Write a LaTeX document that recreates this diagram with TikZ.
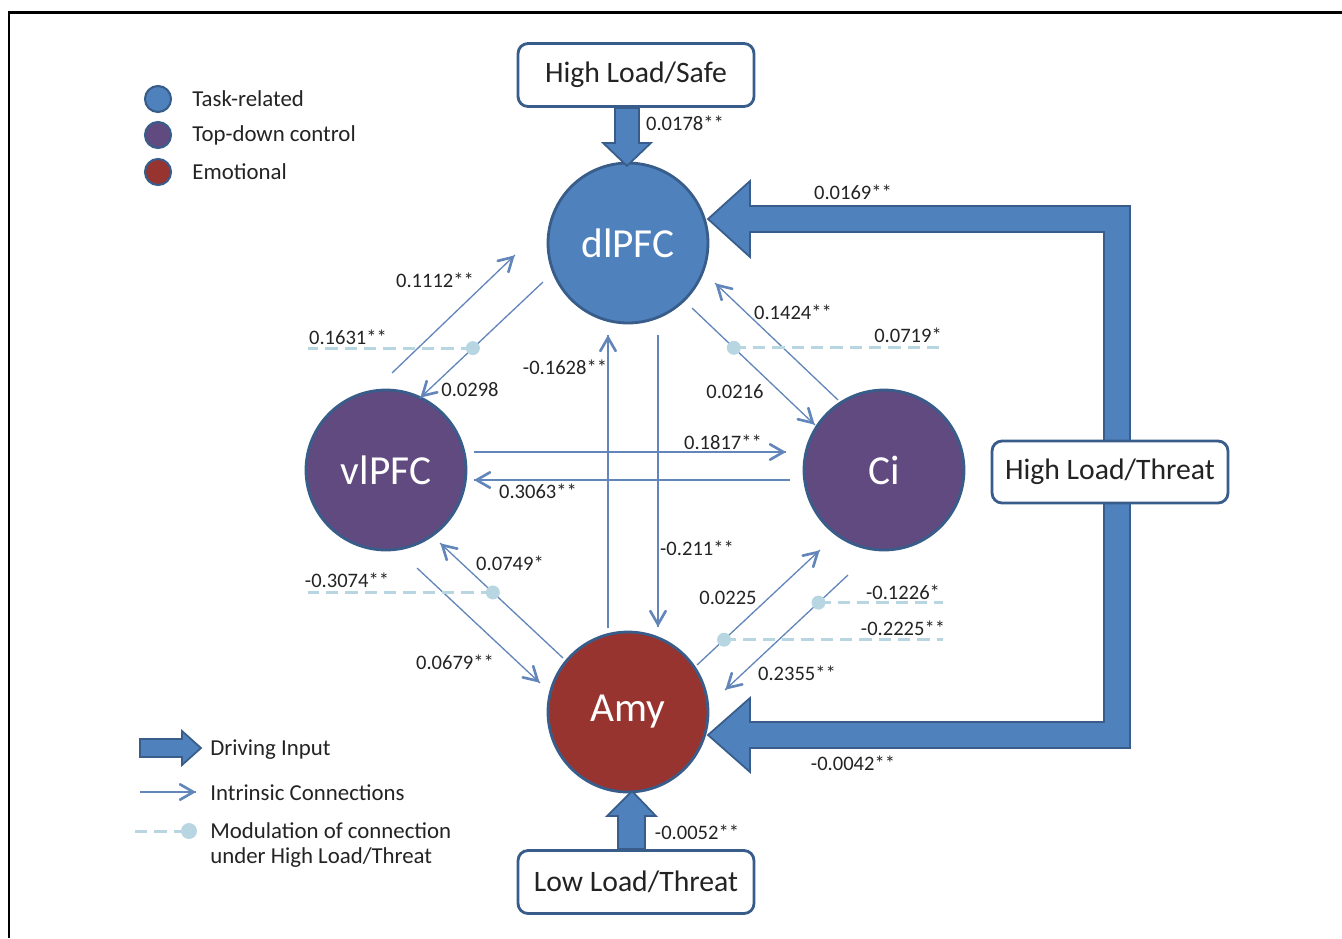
\documentclass[tikz,border=0pt]{standalone}
\usepackage{fontspec}
\setmainfont{Carlito}
\usepackage{tikz}
\usetikzlibrary{arrows}
\usetikzlibrary{calc}
\usetikzlibrary{decorations.markings}
\usetikzlibrary{positioning}
\definecolor{taskblue}{RGB}{79,129,189}
\definecolor{rimblue}{RGB}{56,93,138}
\definecolor{ctrlpurple}{RGB}{96,74,128}
\definecolor{emored}{RGB}{152,52,48}
\definecolor{connblue}{RGB}{98,134,186}
\definecolor{modcyan}{RGB}{184,214,226}
\definecolor{inkgray}{RGB}{35,35,35}
\tikzset{conn/.style = {color=connblue, line width=0.75pt,
                        decoration={markings,
                                    mark=at position 1 with {\arrow[scale=2]{angle 60}}},
                        postaction={decorate}}}
\tikzset{modline/.style = {draw=modcyan, line width=1.7pt, dash pattern=on 7pt off 4pt}}
\tikzset{region/.style = {circle, draw=rimblue, line width=1.6pt, inner sep=0,
                          minimum size=3.2cm, text=white,
                          font=\fontsize{23.5}{28}\selectfont}}
\tikzset{cond/.style = {draw=rimblue, line width=1.6pt, fill=white, rounded corners=0.2cm,
                        minimum width=4.72cm, minimum height=1.26cm,
                        text=inkgray, font=\fontsize{16.9}{20}\selectfont}}
\tikzset{drive/.style = {fill=taskblue, draw=rimblue, line width=1pt, line join=miter}}
\tikzset{wt/.style = {text=inkgray, inner sep=0, font=\fontsize{11.7}{14}\selectfont}}
\tikzset{key/.style = {circle, draw=rimblue, line width=1.2pt, inner sep=0, minimum size=0.52cm}}
\tikzset{keytext/.style = {anchor=west, inner sep=0, text=inkgray, align=left,
                           font=\fontsize{13}{14.7}\selectfont}}
\begin{document}
\begin{tikzpicture}[x=0.02cm, y=-0.02cm]
  \useasboundingbox (0,0) rectangle (1342,938);
  \draw [line width=1.7pt] (9,938) -- (9,12) -- (1342,12);

  % big input arrow on the right
  \filldraw [drive] (708,219) -- (750,181) -- (750,206) -- (1130,206) -- (1130,748)
    -- (750,748) -- (750,772) -- (708,735) -- (750,698) -- (750,722) -- (1104,722)
    -- (1104,232) -- (750,232) -- (750,257) -- cycle;

  % regions
  \node [region, fill=taskblue] (dl) at (628,243) {dlPFC};
  \node [region, fill=ctrlpurple] (vl) at (386,470) {vlPFC};
  \node [region, fill=ctrlpurple] (ci) at (884,470) {Ci};
  \node [region, fill=emored] (amy) at (628,712) {Amy};

  % inputs
  \node [cond] (safe) at (636,75) {High Load/Safe};
  \node [cond] (lowthr) at (636,882) {Low Load/Threat};
  \node [cond, minimum height=1.24cm] (highthr) at (1110,472) {High Load/Threat};
  \filldraw [drive, shift={(safe.south)}] (-21,0) -- (-21,35) -- (-33,35) -- (-9,58)
    -- (15,35) -- (3,35) -- (3,0) -- cycle;
  \filldraw [drive, shift={(lowthr.north)}] (-18,0) -- (-18,-33) -- (-29,-33) -- (-4,-58)
    -- (20,-33) -- (9,-33) -- (9,0) -- cycle;
  \node [wt] (d1) at (685,123) {0.0178**};
  \node [wt] (d2) at (853,192) {0.0169**};
  \node [wt] (d3) at (853,763) {-0.0042**};
  \node [wt] (d4) at (697,832) {-0.0052**};

  % intrinsic connections
  \coordinate (vd1) at (392,373); \coordinate (vd2) at (515,255);
  \coordinate (dv1) at (543,282); \coordinate (dv2) at (420,398);
  \coordinate (dc1) at (692,308); \coordinate (dc2) at (815,425);
  \coordinate (cd1) at (838,400); \coordinate (cd2) at (715,283);
  \coordinate (ad1) at (608,628); \coordinate (ad2) at (608,335);
  \coordinate (da1) at (658,335); \coordinate (da2) at (658,627);
  \coordinate (vc1) at (474,452); \coordinate (vc2) at (786,452);
  \coordinate (cv1) at (790,480); \coordinate (cv2) at (474,480);
  \coordinate (va1) at (417,568); \coordinate (va2) at (540,683);
  \coordinate (av1) at (563,658); \coordinate (av2) at (440,543);
  \coordinate (ac1) at (697,665); \coordinate (ac2) at (820,550);
  \coordinate (ca1) at (848,575); \coordinate (ca2) at (725,690);
  \foreach \a/\b in {vd1/vd2, dv1/dv2, dc1/dc2, cd1/cd2, ad1/ad2,
                     da1/da2, vc1/vc2, cv1/cv2, va1/va2, av1/av2, ac1/ac2, ca1/ca2}
    \draw [conn] (\a) -- (\b);

  \node [wt] (w1) at (435,280) {0.1112**};
  \node [wt] (w2) at (470,390) {0.0298};
  \node [wt] (w3) at (565,367) {-0.1628**};
  \node [wt] (w4) at (697,548) {-0.211**};
  \node [wt] (w5) at (735,392) {0.0216};
  \node [wt] (w6) at (793,312) {0.1424**};
  \node [wt] (w7) at (723,442) {0.1817**};
  \node [wt] (w8) at (538,491) {0.3063**};
  \node [wt] (w9) at (455,662) {0.0679**};
  \node [wt] (w10) at (510,563) {0.0749*};
  \node [wt] (w11) at (728,598) {0.0225};
  \node [wt] (w12) at (797,673) {0.2355**};

  % modulation under High Load/Threat
  \coordinate (mo1) at ($(dv1)!0.57!(dv2)$);
  \coordinate (mo2) at ($(dc1)!0.34!(dc2)$);
  \coordinate (mo3) at ($(av1)!0.57!(av2)$);
  \coordinate (mo4) at ($(ac1)!0.22!(ac2)$);
  \coordinate (mo5) at ($(ca1)!0.24!(ca2)$);
  \coordinate (me1) at (308,0); \coordinate (me2) at (943,0);
  \foreach \p/\q in {mo1/me1, mo2/me2, mo3/me1, mo4/me2, mo5/me2} {
    \draw [modline] (\p) -- (\p -| \q);
    \fill [modcyan] (\p) circle [radius=7];
  }
  \node [wt] (m1) at (348,337) {0.1631**};
  \node [wt] (m2) at (908,335) {0.0719*};
  \node [wt] (m3) at (347,580) {-0.3074**};
  \node [wt] (m4) at (903,628) {-0.2225**};
  \node [wt] (m5) at (903,592) {-0.1226*};

  % legend
  \node [key, fill=taskblue] (k1) at (158,99) {};
  \node [key, fill=ctrlpurple] (k2) at (158,135) {};
  \node [key, fill=emored] (k3) at (158,172) {};
  \node [keytext, right=0.4cm of k1] (kt1) {Task-related};
  \node [keytext, right=0.4cm of k2] (kt2) {Top-down control};
  \node [keytext, right=0.4cm of k3] (kt3) {Emotional};

  \filldraw [drive] (140,739) -- (182,739) -- (182,731) -- (201,748) -- (182,765)
    -- (182,757) -- (140,757) -- cycle;
  \node [keytext] (kt4) at (210,750) {Driving Input};
  \coordinate (ik1) at (140,792); \coordinate (ik2) at (196,792);
  \draw [conn] (ik1) -- (ik2);
  \node [keytext] (kt5) at (210,793) {Intrinsic Connections};
  \coordinate (mk1) at (135,831); \coordinate (mk2) at (189,831);
  \draw [modline] (mk1) -- (mk2);
  \fill [modcyan] (mk2) circle [radius=8];
  \node [keytext] (kt6) at (210,845) {Modulation of connection\\under High Load/Threat};
\end{tikzpicture}
\end{document}
